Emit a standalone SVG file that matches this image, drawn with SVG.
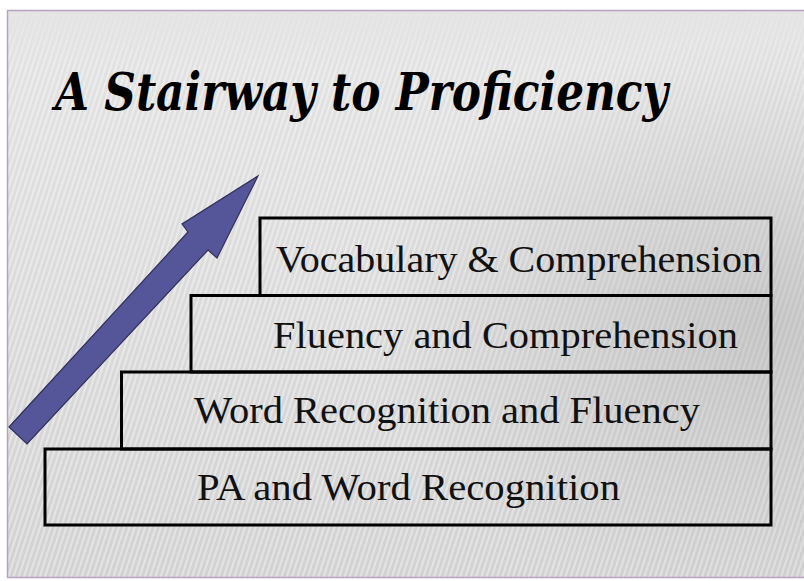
<svg xmlns="http://www.w3.org/2000/svg" width="804" height="581" viewBox="0 0 804 581">
<defs>
<linearGradient id="bg" x1="0" y1="0" x2="0" y2="1">
<stop offset="0" stop-color="#e4e4e4"/>
<stop offset="1" stop-color="#d2d2d2"/>
</linearGradient>
<radialGradient id="shade" cx="0.95" cy="0.55" r="0.5">
<stop offset="0" stop-color="#9a9a9a" stop-opacity="0.35"/>
<stop offset="1" stop-color="#9a9a9a" stop-opacity="0"/>
</radialGradient>
<pattern id="stripes" width="5" height="5" patternUnits="userSpaceOnUse" patternTransform="rotate(18)">
<rect x="0" y="0" width="2" height="5" fill="#ffffff" fill-opacity="0.4"/>
</pattern>
<linearGradient id="fade" x1="0" y1="0" x2="0" y2="1">
<stop offset="0" stop-color="#fff" stop-opacity="0"/>
<stop offset="0.12" stop-color="#fff" stop-opacity="1"/>
<stop offset="1" stop-color="#fff" stop-opacity="1"/>
</linearGradient>
<mask id="m"><rect x="0" y="0" width="804" height="581" fill="url(#fade)"/></mask>
</defs>
<style>
.step{fill:none;stroke:#000;stroke-width:3}
.lbl{font-family:"Liberation Serif","Times New Roman",serif;font-size:38px;fill:#111}
.title{font-family:"DejaVu Serif","Liberation Serif",serif;font-size:52px;font-weight:bold;font-style:italic;fill:#000}
</style>
<rect x="0" y="0" width="804" height="581" fill="#fff"/>
<rect x="7.5" y="10.5" width="800" height="567" fill="url(#bg)"/>
<rect x="7.5" y="10.5" width="800" height="567" fill="url(#stripes)" mask="url(#m)"/>
<rect x="7.5" y="10.5" width="800" height="567" fill="url(#shade)"/>
<rect x="7.5" y="10.5" width="800" height="567" fill="none" stroke="#b8a3c4" stroke-width="1.5"/>
<text class="title" x="55" y="110" textLength="613" lengthAdjust="spacingAndGlyphs">A Stairway to Proficiency</text>
<g id="connectors">
<polygon points="9,427 188,232 182,224 258,176 217,258 208,250 27,444" fill="#55559a" stroke="#2f2f5a" stroke-width="1.2"/>
</g>
<g id="step1">
<rect class="step" x="45" y="449" width="726" height="76"/>
<text class="lbl" x="197" y="500" textLength="423" lengthAdjust="spacingAndGlyphs">PA and Word Recognition</text>
</g>
<g id="step2">
<rect class="step" x="121.5" y="372" width="649.5" height="77"/>
<text class="lbl" x="194" y="423" textLength="506" lengthAdjust="spacingAndGlyphs">Word Recognition and Fluency</text>
</g>
<g id="step3">
<rect class="step" x="191" y="295.5" width="580" height="76.5"/>
<text class="lbl" x="273" y="348" textLength="465" lengthAdjust="spacingAndGlyphs">Fluency and Comprehension</text>
</g>
<g id="step4">
<rect class="step" x="260" y="218" width="511" height="77.5"/>
<text class="lbl" x="276" y="272" textLength="486" lengthAdjust="spacingAndGlyphs">Vocabulary &amp; Comprehension</text>
</g>
</svg>
